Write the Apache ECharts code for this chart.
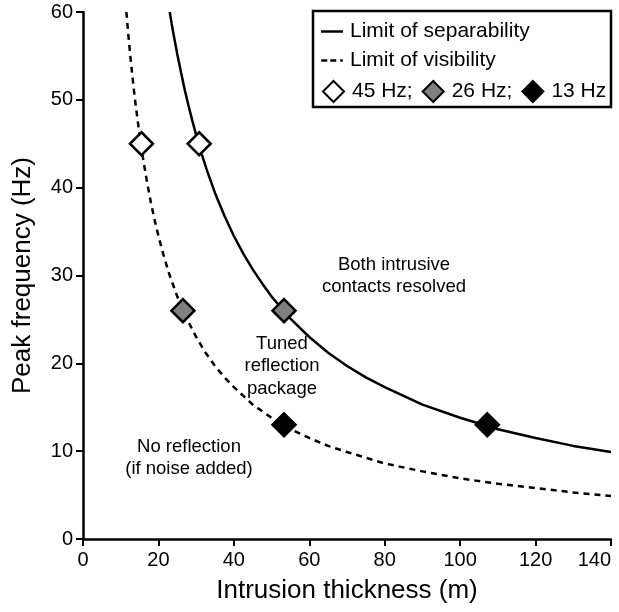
<!DOCTYPE html>
<html>
<head>
<meta charset="utf-8">
<script src="https://cdn.jsdelivr.net/npm/echarts@6/dist/echarts.min.js"></script>
<style>html,body{margin:0;padding:0;background:#fff}#c{width:619px;height:612px}</style>
</head>
<body>
<div id="c"></div>
<script>
// ---- data ----
var sepX = [23, 23.5, 24, 25, 26, 27, 28, 29, 30, 31.5, 33, 35, 37.5, 40, 42.5, 45, 47.5, 50, 55, 60, 65, 70, 75, 80, 90, 100, 110, 120, 130, 140];
var sepY = [60, 58.7, 57.5, 55.2, 53.1, 51.1, 49.3, 47.6, 46, 43.8, 41.8, 39.4, 36.8, 34.5, 32.5, 30.7, 29.1, 27.6, 25.1, 23, 21.2, 19.7, 18.4, 17.3, 15.3, 13.8, 12.5, 11.5, 10.6, 9.9];
var visX = [11.5, 12, 12.5, 13, 13.5, 14, 15, 16, 17, 18, 19, 20, 21.5, 23, 25, 27.5, 30, 32.5, 35, 37.5, 40, 45, 50, 55, 60, 65, 70, 80, 90, 100, 110, 120, 130, 140];
var visY = [60, 57.5, 55.2, 53.1, 51.1, 49.3, 46, 43.1, 40.6, 38.3, 36.3, 34.5, 32.1, 30, 27.6, 25.1, 23, 21.2, 19.7, 18.4, 17.3, 15.3, 13.8, 12.5, 11.5, 10.6, 9.9, 8.6, 7.7, 6.9, 6.3, 5.8, 5.3, 4.9];
var hz45X = [15.5, 30.8], hz45Y = [45, 45];
var hz26X = [26.5, 53.3], hz26Y = [26, 26];
var hz13X = [53.3, 107.2], hz13Y = [13, 13];
var xTicks = [0, 20, 40, 60, 80, 100, 120, 140];
var yTicks = [0, 10, 20, 30, 40, 50, 60];

function pairs(xs, ys) { return xs.map(function (x, i) { return [x, ys[i]]; }); }

var FONT = "'Liberation Sans', Arial, sans-serif";
var chart = echarts.init(document.getElementById('c'), null, {renderer: 'canvas'});

var diamond = function (name, xs, ys, fill) {
  return {
    name: name, type: 'scatter', data: pairs(xs, ys), symbol: 'diamond', symbolSize: 23, z: 5,
    itemStyle: {color: fill, borderColor: '#000', borderWidth: 2.5, opacity: 1}
  };
};

chart.setOption({
  animation: false,
  backgroundColor: '#fff',
  textStyle: {fontFamily: FONT},
  grid: {left: 83, right: 8, top: 12, bottom: 73, containLabel: false, outerBoundsMode: 'none'},
  xAxis: {
    type: 'value', min: xTicks[0], max: xTicks[xTicks.length - 1], interval: 20,
    name: 'Intrusion thickness (m)', nameLocation: 'middle', nameGap: 39,
    nameTextStyle: {fontSize: 26, color: '#000', fontFamily: FONT},
    axisLine: {show: true, lineStyle: {color: '#000', width: 2.5}},
    axisTick: {show: true, inside: false, length: 7, lineStyle: {color: '#000', width: 2}},
    axisLabel: {fontSize: 20, color: '#000', margin: 11, fontFamily: FONT, showMinLabel: true, showMaxLabel: true, alignMaxLabel: 'right'},
    splitLine: {show: false}
  },
  yAxis: {
    type: 'value', min: yTicks[0], max: yTicks[yTicks.length - 1], interval: 10,
    name: 'Peak frequency (Hz)', nameLocation: 'middle', nameGap: 47, nameRotate: 90,
    nameTextStyle: {fontSize: 26, color: '#000', fontFamily: FONT},
    axisLine: {show: true, lineStyle: {color: '#000', width: 2.5}},
    axisTick: {show: true, inside: false, length: 7, lineStyle: {color: '#000', width: 2}},
    axisLabel: {fontSize: 20, color: '#000', margin: 10, fontFamily: FONT, showMinLabel: true, showMaxLabel: true},
    splitLine: {show: false}
  },
  legend: [
    {
      orient: 'vertical', left: 316, top: 16, itemGap: 8, itemWidth: 22, itemHeight: 2.5,
      data: [
        {name: 'Limit of separability', icon: 'path://M0,0H22V2.5H0Z'},
        {name: 'Limit of visibility', icon: 'path://M0,0H6V2.5H0Z M9,0H15V2.5H9Z M19,0H21.5V2.5H19Z'}
      ],
      textStyle: {fontSize: 21, color: '#000', fontFamily: FONT, padding: [0, 0, 0, 2]},
      selectedMode: false
    },
    {
      orient: 'horizontal', left: 317, top: 75, itemGap: 9, itemWidth: 21, itemHeight: 21,
      icon: 'diamond',
      data: ['45 Hz;', '26 Hz;', '13 Hz'],
      textStyle: {fontSize: 21, color: '#000', fontFamily: FONT, padding: [0, 0, 0, 3]},
      itemStyle: {borderWidth: 2},
      selectedMode: false
    }
  ],
  graphic: [
    {type: 'rect', shape: {x: 313, y: 11, width: 298, height: 96}, style: {fill: 'none', stroke: '#000', lineWidth: 2.5}, z: 10},
    {type: 'text', x: 394, y: 276, style: {text: 'Both intrusive\ncontacts resolved', font: '18.5px ' + FONT, fill: '#000', align: 'center', verticalAlign: 'middle', lineHeight: 22}, z: 10},
    {type: 'text', x: 282, y: 366, style: {text: 'Tuned\nreflection\npackage', font: '18.5px ' + FONT, fill: '#000', align: 'center', verticalAlign: 'middle', lineHeight: 22.5}, z: 10},
    {type: 'text', x: 189, y: 458, style: {text: 'No reflection\n(if noise added)', font: '18.5px ' + FONT, fill: '#000', align: 'center', verticalAlign: 'middle', lineHeight: 22}, z: 10}
  ],
  series: [
    {
      name: 'Limit of separability', type: 'line', data: pairs(sepX, sepY), smooth: false,
      symbol: 'none', showSymbol: false, clip: true,
      lineStyle: {color: '#000', width: 2.5, type: 'solid'}, itemStyle: {color: '#000'}
    },
    {
      name: 'Limit of visibility', type: 'line', data: pairs(visX, visY), smooth: false,
      symbol: 'none', showSymbol: false, clip: true,
      lineStyle: {color: '#000', width: 2.5, type: [6, 5]}, itemStyle: {color: '#000'}
    },
    diamond('45 Hz;', hz45X, hz45Y, '#ffffff'),
    diamond('26 Hz;', hz26X, hz26Y, '#808080'),
    diamond('13 Hz', hz13X, hz13Y, '#000000')
  ]
});
</script>
</body>
</html>
